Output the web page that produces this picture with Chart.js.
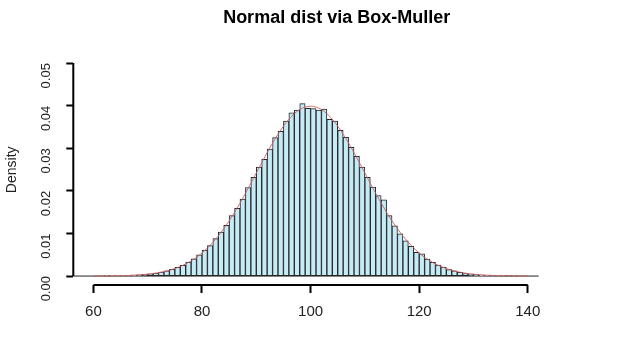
<!DOCTYPE html>
<html>
<head>
<meta charset="utf-8">
<script src="https://cdn.jsdelivr.net/npm/chart.js@4/dist/chart.umd.min.js"></script>
<style>
  html, body { margin: 0; padding: 0; background: #fff; }
  #wrap { width: 640px; height: 360px; }
</style>
</head>
<body>
<div id="wrap"><canvas id="chart" width="640" height="360"></canvas></div>
<script>
// histogram: bins of width 1, first bin starts at 56
const firstBreak = 56;
const densities = [
  0, 0, 0, 0, 0, 0,                                  // 56-61
  0.00003, 0.00005, 0.00008, 0.00010, 0.00012,       // 62-66
  0.00020, 0.00028, 0.00040, 0.00050, 0.00072,       // 67-71
  0.00095, 0.00125, 0.00160, 0.00205, 0.00250,       // 72-76
  0.00330, 0.00405, 0.00500, 0.00610, 0.00715,       // 77-81
  0.00880, 0.01030, 0.01190, 0.01420, 0.01590,       // 82-86
  0.01810, 0.02080, 0.02320, 0.02560, 0.02740,       // 87-91
  0.02980, 0.03250, 0.03400, 0.03640, 0.03830,       // 92-96
  0.03900, 0.04050, 0.03940, 0.03930, 0.03900,       // 97-101
  0.03920, 0.03680, 0.03640, 0.03420, 0.03260,       // 102-106
  0.03020, 0.02810, 0.02560, 0.02320, 0.02090,       // 107-111
  0.01890, 0.01790, 0.01420, 0.01180, 0.00990,       // 112-116
  0.00830, 0.00700, 0.00560, 0.00520, 0.00400,       // 117-121
  0.00320, 0.00260, 0.00210, 0.00150, 0.00120,       // 122-126
  0.00085, 0.00060, 0.00045, 0.00032, 0.00022,       // 127-131
  0.00018, 0.00012, 0.00008, 0.00005, 0.00003,       // 132-136
  0.00002, 0, 0, 0, 0                                // 137-140
];

// fitted normal density, read every 2 units from 60 to 140
const curveStart = 60;
const curveStep = 2;
const curveValues = [
  0.00001, 0.00003, 0.00006, 0.00012, 0.00024, 0.00044, 0.00079, 0.00136,
  0.00224, 0.00355, 0.00540, 0.00790, 0.01109, 0.01497, 0.01942, 0.02420,
  0.02897, 0.03332, 0.03683, 0.03910, 0.03989, 0.03910, 0.03683, 0.03332,
  0.02897, 0.02420, 0.01942, 0.01497, 0.01109, 0.00790, 0.00540, 0.00355,
  0.00224, 0.00136, 0.00079, 0.00044, 0.00024, 0.00012, 0.00006, 0.00003,
  0.00001
];

const xTicks = [60, 80, 100, 120, 140];
const yTicks = [0, 0.01, 0.02, 0.03, 0.04, 0.05];

const histData = densities.map((d, i) => ({ x: firstBreak + i + 0.5, y: d }));
const curveData = curveValues.map((d, i) => ({ x: curveStart + i * curveStep, y: d }));
const baseData = [
  { x: firstBreak, y: 0 },
  { x: firstBreak + densities.length, y: 0 }
];

// R style axes: lines run only from first to last tick
const rAxes = {
  id: 'rAxes',
  afterDraw(chart) {
    const { ctx, chartArea, scales } = chart;
    ctx.save();
    ctx.strokeStyle = '#000';
    ctx.lineWidth = 2;
    ctx.beginPath();
    ctx.moveTo(scales.x.getPixelForValue(xTicks[0]), chartArea.bottom);
    ctx.lineTo(scales.x.getPixelForValue(xTicks[xTicks.length - 1]), chartArea.bottom);
    ctx.moveTo(chartArea.left, scales.y.getPixelForValue(yTicks[0]));
    ctx.lineTo(chartArea.left, scales.y.getPixelForValue(yTicks[yTicks.length - 1]));
    ctx.stroke();
    ctx.restore();
  }
};

const font = "'Liberation Sans', Arial, sans-serif";

new Chart(document.getElementById('chart').getContext('2d'), {
  type: 'bar',
  data: {
    datasets: [
      {
        type: 'line',
        data: baseData,
        borderColor: '#222',
        borderWidth: 1,
        pointRadius: 0,
        order: 3
      },
      {
        type: 'bar',
        data: histData,
        backgroundColor: '#c4ebf6',
        borderColor: '#262626',
        borderWidth: 1,
        borderSkipped: false,
        barPercentage: 1,
        categoryPercentage: 1,
        grouped: false,
        order: 2
      },
      {
        type: 'line',
        data: curveData,
        borderColor: 'rgba(200, 90, 90, 0.85)',
        borderWidth: 1,
        pointRadius: 0,
        cubicInterpolationMode: 'monotone',
        order: 1
      }
    ]
  },
  options: {
    responsive: false,
    devicePixelRatio: 1,
    animation: false,
    layout: { padding: { left: 0, right: 40, top: 0, bottom: 0 } },
    plugins: {
      legend: { display: false },
      tooltip: { enabled: false },
      title: {
        display: true,
        fullSize: false,
        text: 'Normal dist via Box-Muller',
        color: '#000',
        font: { family: font, size: 18, weight: 'bold' },
        padding: { top: 7, bottom: 26 }
      }
    },
    scales: {
      x: {
        type: 'linear',
        min: 56.3,
        max: 153.3,
        offset: false,
        afterBuildTicks: (s) => { s.ticks = xTicks.map(v => ({ value: v })); },
        afterFit: (s) => { s.height = 75; },
        border: { display: false },
        grid: {
          offset: false,
          drawOnChartArea: false,
          drawTicks: true,
          tickLength: 8,
          tickWidth: 2,
          tickColor: '#000'
        },
        ticks: {
          color: '#222',
          font: { family: font, size: 15 },
          padding: 10,
          maxRotation: 0,
          autoSkip: false
        }
      },
      y: {
        type: 'linear',
        min: -0.0021,
        max: 0.052,
        afterBuildTicks: (s) => { s.ticks = yTicks.map(v => ({ value: v })); },
        afterFit: (s) => { s.width = 73.3; },
        border: { display: false },
        grid: {
          drawOnChartArea: false,
          drawTicks: true,
          tickLength: 7,
          tickWidth: 2,
          tickColor: '#000'
        },
        ticks: {
          color: '#222',
          font: { family: font, size: 13 },
          padding: 20,
          minRotation: 90,
          maxRotation: 90,
          callback: (v) => v.toFixed(2)
        },
        title: {
          display: true,
          text: 'Density',
          color: '#222',
          font: { family: font, size: 14 },
          padding: { top: 4, bottom: 0 }
        }
      }
    }
  },
  plugins: [rAxes]
});
</script>
</body>
</html>
